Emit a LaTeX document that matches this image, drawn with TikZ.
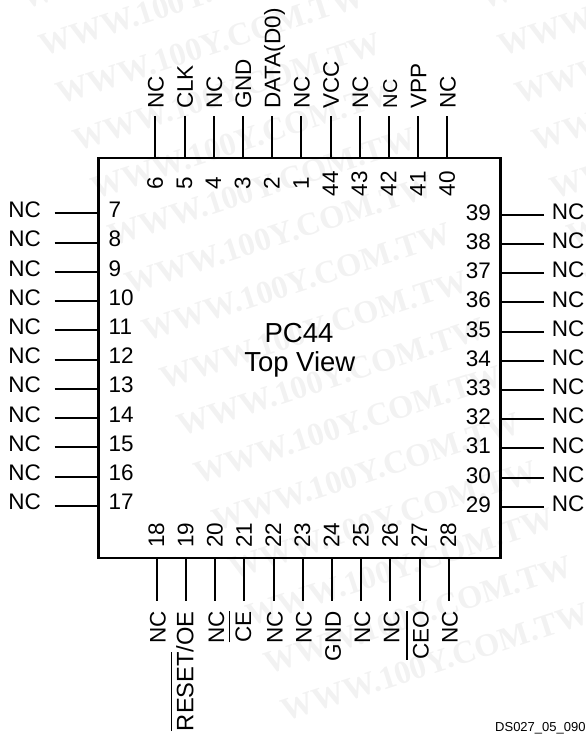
\documentclass[tikz,border=0pt]{standalone}
\usepackage{fontspec}
\setmainfont{Liberation Sans}
\newfontfamily\markfont{Liberation Serif}
\definecolor{grey}{gray}{0.95}
\newcommand{\barred}[1]{\setbox0\hbox{#1}\rlap{\rule[21pt]{\wd0}{1.2pt}}\box0}

\begin{document}
\begin{tikzpicture}[x=1pt,y=-1pt]
    \tikzset{%
      pin/.style={line width=2pt},
      chipbox/.style={draw, line width=2.4pt, inner sep=0pt, minimum
        width=402pt, minimum height=400pt},
      pinfont/.style={font=\fontsize{22.5}{26}\selectfont, inner sep=0pt},
      toplabel/.style={pinfont, rotate=90, anchor=base west},
      botlabel/.style={pinfont, rotate=90, anchor=base east},
      vnum/.style={pinfont, rotate=90, anchor=base},
      leftlabel/.style={pinfont, anchor=base west},
      rightnum/.style={pinfont, anchor=base east},
      title/.style={font=\fontsize{27.5}{32}\selectfont, inner sep=0pt, anchor=base},
      wmark/.style={font=\markfont\bfseries\fontsize{32.5}{38}\selectfont, grey,
        inner sep=0pt, rotate=18, anchor=base west},
    }
    \useasboundingbox (0,0) rectangle (586,734);
    % watermark
    \foreach \col in {0,1}
      \foreach \row in {-1,...,14}
        \node[wmark] (M\col\row) at ({43+459*\col+17.3*\row},{57+47.5*\row}) {WWW.100Y.COM.TW};

    \node[chipbox] (chip) at (299.3,358.2) {};
    \node[title] (name) at (299,342.3) {PC44};
    \node[title] (view) at (299.8,371.7) {Top View};

    % top row
    \coordinate (A6) at (155.3,116);
    \draw [pin] (A6) -- (A6 |- chip.north);
    \node[toplabel] (L6) at (163.6,109) {NC};
    \node[vnum] (N6) at (162.8,183.5) {6};
    \coordinate (A5) at (184.5,116);
    \draw [pin] (A5) -- (A5 |- chip.north);
    \node[toplabel] (L5) at (192.8,109) {CLK};
    \node[vnum] (N5) at (192,183.5) {5};
    \coordinate (A4) at (213.7,116);
    \draw [pin] (A4) -- (A4 |- chip.north);
    \node[toplabel] (L4) at (222,109) {NC};
    \node[vnum] (N4) at (221.2,183.5) {4};
    \coordinate (A3) at (242.9,116);
    \draw [pin] (A3) -- (A3 |- chip.north);
    \node[toplabel] (L3) at (251.2,109) {GND};
    \node[vnum] (N3) at (250.4,183.5) {3};
    \coordinate (A2) at (272.1,116);
    \draw [pin] (A2) -- (A2 |- chip.north);
    \node[toplabel] (L2) at (280.4,109) {DATA(D0)};
    \node[vnum] (N2) at (279.6,183.5) {2};
    \coordinate (A1) at (301.3,116);
    \draw [pin] (A1) -- (A1 |- chip.north);
    \node[toplabel] (L1) at (309.6,109) {NC};
    \node[vnum] (N1) at (308.8,183.5) {1};
    \coordinate (A44) at (330.5,116);
    \draw [pin] (A44) -- (A44 |- chip.north);
    \node[toplabel] (L44) at (338.8,109) {VCC};
    \node[vnum] (N44) at (338,183.5) {44};
    \coordinate (A43) at (359.7,116);
    \draw [pin] (A43) -- (A43 |- chip.north);
    \node[toplabel] (L43) at (368,109) {NC};
    \node[vnum] (N43) at (367.2,183.5) {43};
    \coordinate (A42) at (388.9,116);
    \draw [pin] (A42) -- (A42 |- chip.north);
    \node[toplabel, font=\fontsize{20}{24}\selectfont] (L42) at (397,108.5) {NC};
    \node[vnum] (N42) at (396.4,183.5) {42};
    \coordinate (A41) at (418.1,116);
    \draw [pin] (A41) -- (A41 |- chip.north);
    \node[toplabel] (L41) at (426.4,109) {VPP};
    \node[vnum] (N41) at (425.6,183.5) {41};
    \coordinate (A40) at (447.3,116);
    \draw [pin] (A40) -- (A40 |- chip.north);
    \node[toplabel] (L40) at (455.6,109) {NC};
    \node[vnum] (N40) at (454.8,183.5) {40};

    % left row
    \coordinate (A7) at (54.5,213.3);
    \draw [pin] (A7) -- (A7 -| chip.west);
    \node[leftlabel] (L7) at (8.3,217.5) {NC};
    \node[leftlabel] (N7) at (108.5,217.5) {7};
    \coordinate (A8) at (54.5,242.5);
    \draw [pin] (A8) -- (A8 -| chip.west);
    \node[leftlabel] (L8) at (8.3,246.7) {NC};
    \node[leftlabel] (N8) at (108.5,246.7) {8};
    \coordinate (A9) at (54.5,271.8);
    \draw [pin] (A9) -- (A9 -| chip.west);
    \node[leftlabel] (L9) at (8.3,276) {NC};
    \node[leftlabel] (N9) at (108.5,276) {9};
    \coordinate (A10) at (54.5,301);
    \draw [pin] (A10) -- (A10 -| chip.west);
    \node[leftlabel] (L10) at (8.3,305.2) {NC};
    \node[leftlabel] (N10) at (108.5,305.2) {10};
    \coordinate (A11) at (54.5,330.3);
    \draw [pin] (A11) -- (A11 -| chip.west);
    \node[leftlabel] (L11) at (8.3,334.5) {NC};
    \node[leftlabel] (N11) at (108.5,334.5) {11};
    \coordinate (A12) at (54.5,359.5);
    \draw [pin] (A12) -- (A12 -| chip.west);
    \node[leftlabel] (L12) at (8.3,363.7) {NC};
    \node[leftlabel] (N12) at (108.5,363.7) {12};
    \coordinate (A13) at (54.5,388.7);
    \draw [pin] (A13) -- (A13 -| chip.west);
    \node[leftlabel] (L13) at (8.3,392.9) {NC};
    \node[leftlabel] (N13) at (108.5,392.9) {13};
    \coordinate (A14) at (54.5,418);
    \draw [pin] (A14) -- (A14 -| chip.west);
    \node[leftlabel] (L14) at (8.3,422.2) {NC};
    \node[leftlabel] (N14) at (108.5,422.2) {14};
    \coordinate (A15) at (54.5,447.2);
    \draw [pin] (A15) -- (A15 -| chip.west);
    \node[leftlabel] (L15) at (8.3,451.4) {NC};
    \node[leftlabel] (N15) at (108.5,451.4) {15};
    \coordinate (A16) at (54.5,476.5);
    \draw [pin] (A16) -- (A16 -| chip.west);
    \node[leftlabel] (L16) at (8.3,480.7) {NC};
    \node[leftlabel] (N16) at (108.5,480.7) {16};
    \coordinate (A17) at (54.5,505.7);
    \draw [pin] (A17) -- (A17 -| chip.west);
    \node[leftlabel] (L17) at (8.3,509.9) {NC};
    \node[leftlabel] (N17) at (108.5,509.9) {17};

    % bottom row
    \coordinate (A18) at (156.7,600.7);
    \draw [pin] (A18) -- (A18 |- chip.south);
    \node[botlabel] (L18) at (165.7,611) {NC};
    \node[vnum] (N18) at (164.2,535) {18};
    \coordinate (A19) at (185.9,600.7);
    \draw [pin] (A19) -- (A19 |- chip.south);
    \node[botlabel, font=\fontsize{23.7}{27}\selectfont] (L19) at (193.3,611) {\barred{RESET}/OE};
    \node[vnum] (N19) at (193.4,535) {19};
    \coordinate (A20) at (215.1,600.7);
    \draw [pin] (A20) -- (A20 |- chip.south);
    \node[botlabel] (L20) at (224.1,611) {NC};
    \node[vnum] (N20) at (222.6,535) {20};
    \coordinate (A21) at (244.3,600.7);
    \draw [pin] (A21) -- (A21 |- chip.south);
    \node[botlabel] (L21) at (251,611) {\barred{CE}};
    \node[vnum] (N21) at (251.8,535) {21};
    \coordinate (A22) at (273.5,600.7);
    \draw [pin] (A22) -- (A22 |- chip.south);
    \node[botlabel] (L22) at (282.5,611) {NC};
    \node[vnum] (N22) at (281,535) {22};
    \coordinate (A23) at (302.7,600.7);
    \draw [pin] (A23) -- (A23 |- chip.south);
    \node[botlabel] (L23) at (311.7,611) {NC};
    \node[vnum] (N23) at (310.2,535) {23};
    \coordinate (A24) at (331.9,600.7);
    \draw [pin] (A24) -- (A24 |- chip.south);
    \node[botlabel] (L24) at (340.9,611) {GND};
    \node[vnum] (N24) at (339.4,535) {24};
    \coordinate (A25) at (361.1,600.7);
    \draw [pin] (A25) -- (A25 |- chip.south);
    \node[botlabel] (L25) at (370.1,611) {NC};
    \node[vnum] (N25) at (368.6,535) {25};
    \coordinate (A26) at (390.3,600.7);
    \draw [pin] (A26) -- (A26 |- chip.south);
    \node[botlabel] (L26) at (399.3,611) {NC};
    \node[vnum] (N26) at (397.8,535) {26};
    \coordinate (A27) at (419.5,600.7);
    \draw [pin] (A27) -- (A27 |- chip.south);
    \node[botlabel] (L27) at (428.5,611) {\barred{CEO}};
    \node[vnum] (N27) at (427,535) {27};
    \coordinate (A28) at (448.7,600.7);
    \draw [pin] (A28) -- (A28 |- chip.south);
    \node[botlabel] (L28) at (457.7,611) {NC};
    \node[vnum] (N28) at (456.2,535) {28};

    % right row
    \coordinate (A39) at (544,214.7);
    \draw [pin] (A39) -- (A39 -| chip.east);
    \node[leftlabel] (L39) at (551.6,219.4) {NC};
    \node[rightnum] (N39) at (491,220.2) {39};
    \coordinate (A38) at (544,243.9);
    \draw [pin] (A38) -- (A38 -| chip.east);
    \node[leftlabel] (L38) at (551.6,248.6) {NC};
    \node[rightnum] (N38) at (491,249.4) {38};
    \coordinate (A37) at (544,273.1);
    \draw [pin] (A37) -- (A37 -| chip.east);
    \node[leftlabel] (L37) at (551.6,277.8) {NC};
    \node[rightnum] (N37) at (491,278.6) {37};
    \coordinate (A36) at (544,302.3);
    \draw [pin] (A36) -- (A36 -| chip.east);
    \node[leftlabel] (L36) at (551.6,307) {NC};
    \node[rightnum] (N36) at (491,307.8) {36};
    \coordinate (A35) at (544,331.5);
    \draw [pin] (A35) -- (A35 -| chip.east);
    \node[leftlabel] (L35) at (551.6,336.2) {NC};
    \node[rightnum] (N35) at (491,337) {35};
    \coordinate (A34) at (544,360.7);
    \draw [pin] (A34) -- (A34 -| chip.east);
    \node[leftlabel] (L34) at (551.6,365.4) {NC};
    \node[rightnum] (N34) at (491,366.2) {34};
    \coordinate (A33) at (544,389.9);
    \draw [pin] (A33) -- (A33 -| chip.east);
    \node[leftlabel] (L33) at (551.6,394.6) {NC};
    \node[rightnum] (N33) at (491,395.4) {33};
    \coordinate (A32) at (544,419.1);
    \draw [pin] (A32) -- (A32 -| chip.east);
    \node[leftlabel] (L32) at (551.6,423.8) {NC};
    \node[rightnum] (N32) at (491,424.6) {32};
    \coordinate (A31) at (544,448.3);
    \draw [pin] (A31) -- (A31 -| chip.east);
    \node[leftlabel] (L31) at (551.6,453) {NC};
    \node[rightnum] (N31) at (491,453.8) {31};
    \coordinate (A30) at (544,477.5);
    \draw [pin] (A30) -- (A30 -| chip.east);
    \node[leftlabel] (L30) at (551.6,482.2) {NC};
    \node[rightnum] (N30) at (491,483) {30};
    \coordinate (A29) at (544,506.7);
    \draw [pin] (A29) -- (A29 -| chip.east);
    \node[leftlabel] (L29) at (551.6,511.4) {NC};
    \node[rightnum] (N29) at (491,512.2) {29};

    \node[leftlabel, font=\fontsize{13}{15}\selectfont] (code) at (495,731) {DS027\_05\_090};
\end{tikzpicture}
\end{document}
